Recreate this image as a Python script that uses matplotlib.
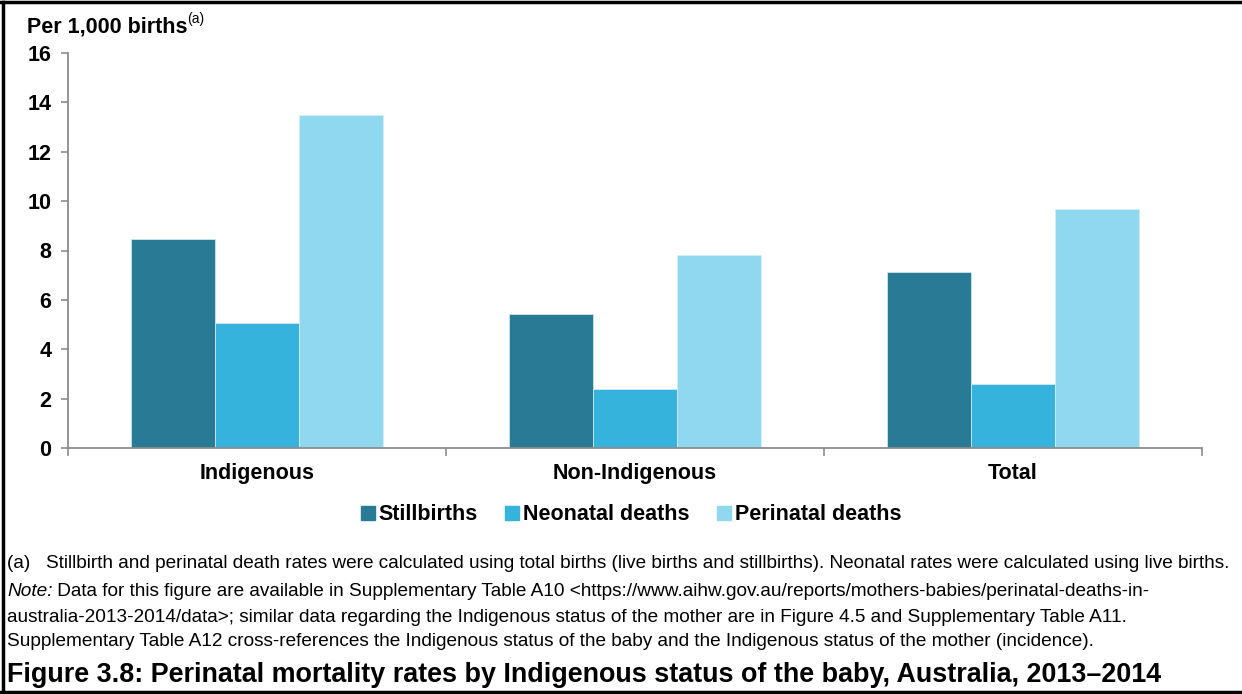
import matplotlib.pyplot as plt
import numpy as np
from matplotlib.lines import Line2D

plt.rcParams['font.family'] = ['Liberation Sans', 'DejaVu Sans']

# data (per 1,000 births)
categories = ['Indigenous', 'Non-Indigenous', 'Total']
series = ['Stillbirths', 'Neonatal deaths', 'Perinatal deaths']
stillbirths = [8.45, 5.43, 7.11]
neonatal = [5.07, 2.40, 2.59]
perinatal = [13.47, 7.81, 9.70]
yticks = [0, 2, 4, 6, 8, 10, 12, 14, 16]

colors = ['#297B95', '#36B3DC', '#8FD8F0']
axis_grey = '#8c8c8c'
bold_size = 15.5
note_size = 13.7

fig = plt.figure(figsize=(12.42, 6.94), dpi=100)
ax = fig.add_axes([68/1242, 1 - 448/694, (1202 - 68)/1242, (448 - 53)/694])

x = np.arange(len(categories))
w = 0.222
for i, (vals, lab) in enumerate(zip([stillbirths, neonatal, perinatal], series)):
    ax.bar(x + (i - 1) * w, vals, w, color=colors[i], label=lab,
           edgecolor='#d8eef5', linewidth=0.5, zorder=2)

ax.set_xlim(-0.5, len(categories) - 0.5)
ax.set_ylim(0, 16)
ax.set_yticks(yticks)
ax.set_yticklabels([str(t) for t in yticks], fontweight='bold', fontsize=bold_size)
ax.set_xticks(x)
ax.set_xticklabels(categories, fontweight='bold', fontsize=bold_size)
ax.tick_params(axis='x', length=0, pad=11)
ax.tick_params(axis='y', length=5, color=axis_grey, width=1.2, pad=7)
# category boundary ticks on the x axis
ax.set_xticks(np.arange(len(categories) + 1) - 0.5, minor=True)
ax.tick_params(axis='x', which='minor', length=6, color=axis_grey, width=1.2)
for s in ['top', 'right']:
    ax.spines[s].set_visible(False)
for s in ['left', 'bottom']:
    ax.spines[s].set_color(axis_grey)
    ax.spines[s].set_linewidth(1.3)

# y-axis title with superscript
t = fig.text(27/1242, 1 - 27/694, 'Per 1,000 births', fontsize=bold_size, fontweight='bold', va='center')
fig.canvas.draw()
ax.annotate('(a)', xy=(1, 0.55), xycoords=t, fontsize=10, va='bottom', ha='left')

# legend
handles = [Line2D([], [], marker='s', color=c, linestyle='none', markersize=10) for c in colors]
fig.legend(handles, series, loc='center', bbox_to_anchor=(630/1242, 1 - 515/694), ncol=3,
           frameon=False, prop={'weight': 'bold', 'size': bold_size}, handletextpad=0.1,
           columnspacing=1.2, handlelength=0.8)

# footnotes
fig.text(7/1242, 1 - 563/694,
         '(a)   Stillbirth and perinatal death rates were calculated using total births (live births and stillbirths). '
         'Neonatal rates were calculated using live births.', fontsize=note_size, va='center')
n = fig.text(7/1242, 1 - 592/694, 'Note:', fontsize=note_size, style='italic', va='center')
fig.canvas.draw()
ax.annotate(' Data for this figure are available in Supplementary Table A10 <https://www.aihw.gov.au/reports/mothers-babies/perinatal-deaths-in-',
            xy=(1, 0.5), xycoords=n, fontsize=note_size, va='center', ha='left')
fig.text(7/1242, 1 - 617/694,
         'australia-2013-2014/data>; similar data regarding the Indigenous status of the mother are in Figure 4.5 and Supplementary Table A11.',
         fontsize=note_size, va='center')
fig.text(7/1242, 1 - 642/694,
         'Supplementary Table A12 cross-references the Indigenous status of the baby and the Indigenous status of the mother (incidence).',
         fontsize=note_size, va='center')
fig.text(7/1242, 1 - 675/694,
         'Figure 3.8: Perinatal mortality rates by Indigenous status of the baby, Australia, 2013\u20132014',
         fontsize=19.4, fontweight='bold', va='center')

# frame around the figure
for xs, ys in [([3/1242, 3/1242], [0.003, 0.997]), ([0, 1], [0.997, 0.997]), ([0, 1], [0.003, 0.003])]:
    fig.add_artist(Line2D(xs, ys, color='black', linewidth=2.5, transform=fig.transFigure))

fig.savefig('out.png', dpi=100)
